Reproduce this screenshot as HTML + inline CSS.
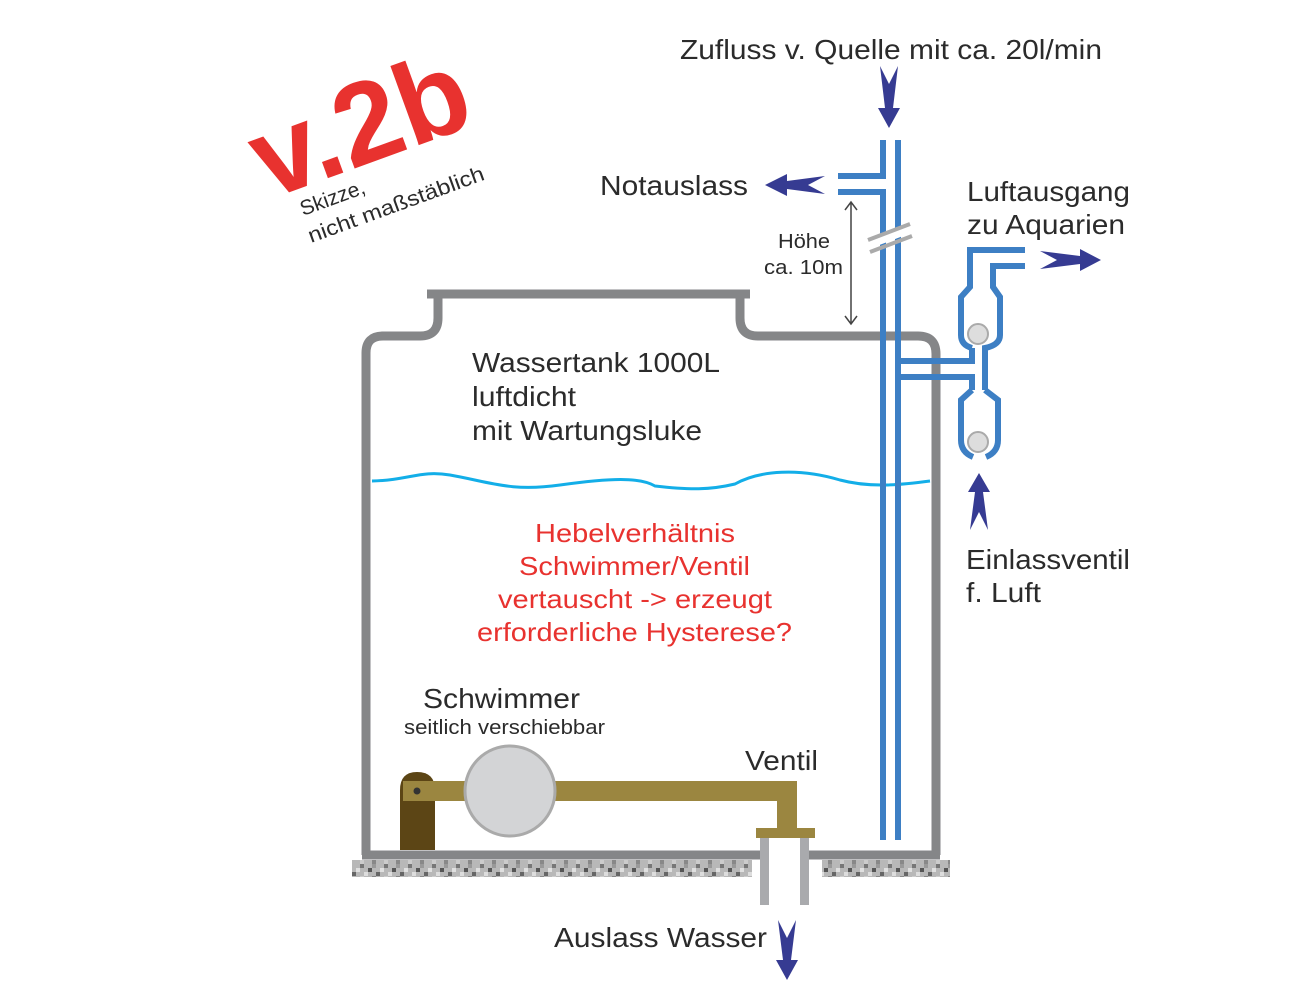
<!DOCTYPE html>
<html><head><meta charset="utf-8"><style>
html,body{margin:0;padding:0;background:#fff;}
svg{display:block;font-family:"Liberation Sans",Arial,sans-serif;}
</style></head><body>
<svg width="1300" height="1000" viewBox="0 0 1300 1000" xmlns="http://www.w3.org/2000/svg">
<defs>
<pattern id="gr" width="24" height="16" patternUnits="userSpaceOnUse">
<rect width="24" height="16" fill="#b8b8b8"/>
<rect x="0" y="0" width="4" height="4" fill="#777"/>
<rect x="8" y="4" width="4" height="4" fill="#555"/>
<rect x="4" y="8" width="4" height="4" fill="#ddd"/>
<rect x="12" y="0" width="4" height="4" fill="#999"/>
<rect x="16" y="8" width="4" height="4" fill="#666"/>
<rect x="20" y="4" width="4" height="4" fill="#e0e0e0"/>
<rect x="12" y="12" width="4" height="4" fill="#888"/>
<rect x="0" y="12" width="4" height="4" fill="#ccc"/>
</pattern>
</defs>
<rect x="352" y="860" width="400" height="17" fill="url(#gr)"/>
<rect x="822" y="860" width="128" height="17" fill="url(#gr)"/>
<g fill="none" stroke="#858688" stroke-width="9">
<path d="M366 855 V353 Q366 336 383 336 H420 Q438 336 438 318 V294"/>
<path d="M427 294 H750"/>
<path d="M740 294 V318 Q740 336 758 336 H918 Q936 336 936 354 V855"/>
<path d="M362 855 H760 M808 855 H940"/>
</g>
<path d="M372 481 C410 480 420 470 450 475 C490 482 510 492 560 485 C610 478 640 477 655 486 C690 490 710 490 735 484 C760 470 800 468 840 480 C870 488 900 485 930 481" fill="none" stroke="#13aee8" stroke-width="3"/>
<g fill="none" stroke="#3d7fc4" stroke-width="6">
<path d="M883 140 V176 H838"/>
<path d="M838 192 H883 V840"/>
<path d="M898 140 V840"/>
<path d="M898 361 H972 V348"/>
<path d="M898 377 H972 V390"/>
<path d="M1025 250 H970 V287 L961 297 V335 Q961 345 972 348"/>
<path d="M1025 266 H993 V287 L1000 297 V335 Q1000 345 985 348 V390"/>
<path d="M972 390 L961 400 V440 Q961 452 973 457"/>
<path d="M985 390 L998 400 V440 Q998 452 986 457"/>
</g>
<circle cx="978" cy="334" r="10" fill="#ddd" stroke="#aaa" stroke-width="2"/>
<circle cx="978" cy="442" r="10" fill="#ddd" stroke="#aaa" stroke-width="2"/>
<g stroke="#fff" stroke-width="10"><path d="M868 244 L910 228"/></g>
<g stroke="#aaa" stroke-width="4"><path d="M868 240 L910 224 M870 252 L912 236"/></g>
<g stroke="#444" stroke-width="1.5" fill="none">
<path d="M851 202 V324 M845 210 L851 202 L857 210 M845 316 L851 324 L857 316"/>
</g>
<path d="M400 850 V790 Q400 772 417 772 Q435 772 435 790 V850 Z" fill="#5c4515"/>
<rect x="403" y="781" width="394" height="20" fill="#9b8640"/>
<rect x="777" y="781" width="20" height="50" fill="#9b8640"/>
<rect x="756" y="828" width="59" height="10" fill="#9b8640"/>
<circle cx="417" cy="791" r="3.5" fill="#333"/>
<circle cx="510" cy="791" r="45" fill="#d3d4d6" stroke="#aaa" stroke-width="3"/>
<rect x="760" y="838" width="9" height="67" fill="#a9aaad"/>
<rect x="800" y="838" width="9" height="67" fill="#a9aaad"/>
<g fill="#363b92">
<polygon points="880,66 889,84 898,66 893,108 900,108 889,128 878,108 885,108"/>
<polygon points="778,920 787,938 796,920 791,960 798,960 787,980 776,960 783,960"/>
<polygon points="970,530 979,512 988,530 983,492 990,492 979,473 968,492 975,492"/>
<polygon points="825,176 808,185 825,194 787,189 787,196 765,185 787,174 787,181"/>
<polygon points="1040,251 1057,260 1040,269 1080,264 1080,271 1101,260 1080,249 1080,256"/>
</g>
<g fill="#2b2b2b" font-size="28" lengthAdjust="spacingAndGlyphs">
<text x="680" y="59" textLength="422" lengthAdjust="spacingAndGlyphs">Zufluss v. Quelle mit ca. 20l/min</text>
<text x="600" y="195" textLength="148" lengthAdjust="spacingAndGlyphs">Notauslass</text>
<text x="967" y="201" textLength="163" lengthAdjust="spacingAndGlyphs">Luftausgang</text>
<text x="967" y="234" textLength="158" lengthAdjust="spacingAndGlyphs">zu Aquarien</text>
<text x="966" y="569" textLength="164" lengthAdjust="spacingAndGlyphs">Einlassventil</text>
<text x="966" y="602" textLength="75" lengthAdjust="spacingAndGlyphs">f. Luft</text>
<text x="472" y="372" textLength="248" lengthAdjust="spacingAndGlyphs">Wassertank 1000L</text>
<text x="472" y="406" textLength="104" lengthAdjust="spacingAndGlyphs">luftdicht</text>
<text x="472" y="440" textLength="230" lengthAdjust="spacingAndGlyphs">mit Wartungsluke</text>
<text x="423" y="708" textLength="157" lengthAdjust="spacingAndGlyphs">Schwimmer</text>
<text x="745" y="770" textLength="73" lengthAdjust="spacingAndGlyphs">Ventil</text>
<text x="554" y="947" textLength="213" lengthAdjust="spacingAndGlyphs">Auslass Wasser</text>
</g>
<text x="404" y="734" font-size="20" fill="#2b2b2b" textLength="201" lengthAdjust="spacingAndGlyphs">seitlich verschiebbar</text>
<text x="778" y="248" font-size="20" fill="#2b2b2b" textLength="52" lengthAdjust="spacingAndGlyphs">Höhe</text>
<text x="764" y="274" font-size="20" fill="#2b2b2b" textLength="79" lengthAdjust="spacingAndGlyphs">ca. 10m</text>
<g fill="#e8322f" font-size="26">
<text x="535" y="542" textLength="200" lengthAdjust="spacingAndGlyphs">Hebelverhältnis</text>
<text x="519" y="575" textLength="231" lengthAdjust="spacingAndGlyphs">Schwimmer/Ventil</text>
<text x="498" y="608" textLength="274" lengthAdjust="spacingAndGlyphs">vertauscht -&gt; erzeugt</text>
<text x="477" y="641" textLength="315" lengthAdjust="spacingAndGlyphs">erforderliche Hysterese?</text>
</g>
<text x="0" y="0" font-size="116" font-weight="bold" fill="#e8322f" transform="translate(268,200) rotate(-20)">v.2b</text>
<text x="0" y="0" font-size="21" fill="#2b2b2b" transform="translate(303,216) rotate(-20)">Skizze,</text>
<text x="0" y="0" font-size="21" fill="#2b2b2b" transform="translate(311,243) rotate(-20)" textLength="186" lengthAdjust="spacingAndGlyphs">nicht maßstäblich</text>
</svg>
</body></html>
